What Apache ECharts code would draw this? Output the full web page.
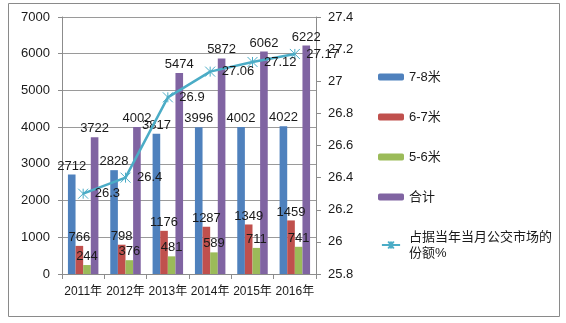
<!DOCTYPE html>
<html><head><meta charset="utf-8">
<script src="https://cdn.jsdelivr.net/npm/echarts@6/dist/echarts.min.js"></script>
<style>html,body{margin:0;padding:0;background:#fff}#c{width:566px;height:323px}</style>
</head><body><div id="c"></div>
<script>
const categories = ['2011年','2012年','2013年','2014年','2015年','2016年'];
const s78 = [2712, 2828, 3817, 3996, 4002, 4022];
const s67 = [766, 798, 1176, 1287, 1349, 1459];
const s56 = [244, 376, 481, 589, 711, 741];
const total = [3722, 4002, 5474, 5872, 6062, 6222];
const share = [26.3, 26.4, 26.9, 27.06, 27.12, 27.17];
const leftTicks = {min: 0, max: 7000, interval: 1000};
const rightTicks = {min: 25.8, max: 27.4, interval: 0.2};

const FONT = '"Liberation Sans","Noto Sans CJK SC",sans-serif';
const txt = '#1a1a1a';
const axisGray = '#8c8c8c';
const lineColor = '#4BACC6';
const labelStyle = {show: true, position: 'top', distance: 2, color: txt, fontSize: 13, fontFamily: FONT};
function bar(name, data, color) {
  return {name, type: 'bar', data, barGap: '0%', barCategoryGap: '28%',
    itemStyle: {color}, label: labelStyle, emphasis: {disabled: true}};
}
const chart = echarts.init(document.getElementById('c'), null, {renderer: 'canvas'});
chart.setOption({
  animation: false,
  textStyle: {fontFamily: FONT},
  grid: {left: 62, right: 250, top: 17, bottom: 49},
  legend: {
    orient: 'vertical', left: 373, top: 64, itemWidth: 26, itemHeight: 7, itemGap: 24,
    textStyle: {fontSize: 13, color: txt, fontFamily: FONT, lineHeight: 16, width: 150, overflow: 'break'},
    data: ['7-8米','6-7米','5-6米','合计', {
      name: '占据当年当月公交市场的份额%',
      icon: 'path://M0,5L26,5M9,0L17,10M17,0L9,10M13,0L13,10',
      itemStyle: {color: 'rgba(0,0,0,0)', borderColor: lineColor, borderWidth: 2}
    }]
  },
  xAxis: {
    type: 'category', data: categories,
    axisLine: {lineStyle: {color: axisGray}},
    axisTick: {show: true, length: 5, lineStyle: {color: axisGray}},
    axisLabel: {color: txt, fontSize: 12, margin: 12, fontFamily: FONT, interval: 0}
  },
  yAxis: [{
    type: 'value', min: leftTicks.min, max: leftTicks.max, interval: leftTicks.interval,
    axisLine: {show: true, lineStyle: {color: axisGray}},
    axisTick: {show: true, length: 4, lineStyle: {color: axisGray}},
    splitLine: {lineStyle: {color: '#9a9a9a'}},
    axisLabel: {color: txt, fontSize: 13, margin: 12, fontFamily: FONT, formatter: v => String(v)}
  }, {
    type: 'value', position: 'right', min: rightTicks.min, max: rightTicks.max, interval: rightTicks.interval,
    axisLine: {show: true, lineStyle: {color: axisGray}},
    axisTick: {show: true, length: 5, lineStyle: {color: axisGray}},
    splitLine: {show: false},
    axisLabel: {color: txt, fontSize: 13, margin: 12, fontFamily: FONT,
      formatter: v => String(Math.round(v * 10) / 10)}
  }],
  series: [
    bar('7-8米', s78, '#4F81BD'),
    bar('6-7米', s67, '#C0504D'),
    bar('5-6米', s56, '#9BBB59'),
    bar('合计', total, '#8064A2'),
    {
      name: '占据当年当月公交市场的份额%', type: 'line', yAxisIndex: 1, data: share,
      symbol: 'path://M0,0L10,10M10,0L0,10M5,0L5,10', symbolSize: 10,
      lineStyle: {color: lineColor, width: 2.5},
      itemStyle: {color: 'rgba(0,0,0,0)', borderColor: lineColor, borderWidth: 1},
      label: {show: true, position: 'right', distance: 6, color: txt, fontSize: 13, fontFamily: FONT},
      emphasis: {disabled: true}, z: 5
    }
  ],
  graphic: [{
    type: 'rect', shape: {x: 8.5, y: 3.5, width: 551, height: 313},
    style: {fill: 'none', stroke: '#8a8a8a', lineWidth: 1}, silent: true, z: -1
  }]
});
</script></body></html>
